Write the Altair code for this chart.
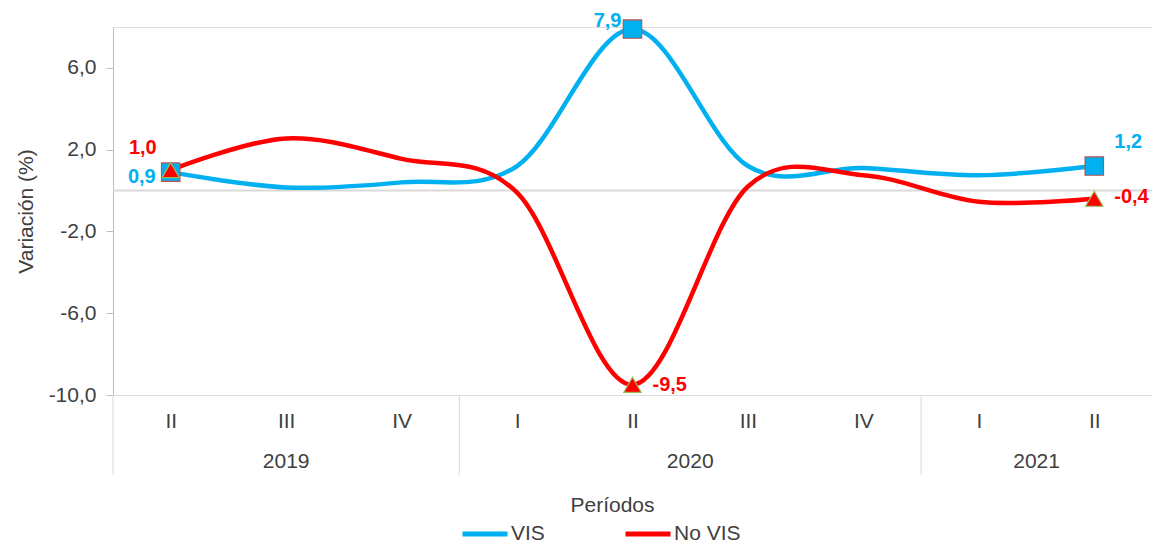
import altair as alt
import pandas as pd

quarters = ["II", "III", "IV", "I", "II", "III", "IV", "I", "II"]
years = ["2019", "2019", "2019", "2020", "2020", "2020", "2020", "2021", "2021"]
vis = [0.9, 0.15, 0.4, 1.2, 7.9, 1.2, 1.1, 0.75, 1.2]
no_vis = [1.0, 2.55, 1.55, -0.1, -9.5, 0.2, 0.75, -0.55, -0.4]
series_names = ["VIS", "No VIS"]
series_colors = ["#00B0F0", "#FF0000"]
labeled_idx = [0, 4, 8]

FONT = "Liberation Sans"
W, H = 1039, 368
FS = 21

rows = []
for i in range(len(quarters)):
    rows.append({"idx": i, "serie": "VIS", "valor": vis[i]})
    rows.append({"idx": i, "serie": "No VIS", "valor": no_vis[i]})
df = pd.DataFrame(rows)
df["lbl"] = df["valor"].map(lambda v: f"{v:.1f}".replace(".", ","))

groups = []
for y in dict.fromkeys(years):
    ids = [i for i, yy in enumerate(years) if yy == y]
    groups.append({"year": y, "center": (ids[0] + ids[-1]) / 2, "start": ids[0] - 0.5})
gdf = pd.DataFrame(groups)

xscale = alt.Scale(domain=[-0.5, len(quarters) - 0.5], nice=False, zero=False)
yscale = alt.Scale(domain=[-10, 8], nice=False)
cscale = alt.Scale(domain=series_names, range=series_colors)

qexpr = "[" + ",".join(f"'{q}'" for q in quarters) + "][datum.value]"

x_enc = alt.X("idx:Q", scale=xscale,
              axis=alt.Axis(values=list(range(len(quarters))), labelExpr=qexpr,
                            domain=False, ticks=False, grid=False,
                            labelFont=FONT, labelFontSize=FS, labelColor="#404040",
                            labelPadding=15, title="Períodos", titleFont=FONT,
                            titleFontSize=FS, titleFontWeight="normal",
                            titleColor="#404040", titleX=499, titleY=110,
                            titleBaseline="middle"))
y_enc = alt.Y("valor:Q", scale=yscale,
              axis=alt.Axis(values=[-10, -6, -2, 2, 6],
                            labelExpr="(datum.value < 0 ? '-' : '') + replace(format(abs(datum.value), '.1f'), '.', ',')",
                            grid=False, domainColor="#BFBFBF", tickColor="#BFBFBF",
                            tickSize=7, labelFont=FONT, labelFontSize=FS,
                            labelColor="#404040", labelPadding=10,
                            title="Variación (%)", titleFont=FONT, titleFontSize=FS,
                            titleFontWeight="normal", titleColor="#404040",
                            titlePadding=12))

base = alt.Chart(df)

zero = alt.Chart(pd.DataFrame({"z": [0]})).mark_rule(color="#D9D9D9", strokeWidth=2).encode(
    y=alt.Y("z:Q", scale=yscale))

seps = alt.Chart(gdf).mark_rule(color="#D9D9D9", strokeWidth=1).encode(
    x=alt.X("start:Q", scale=xscale), y=alt.value(H), y2=alt.value(H + 80))

year_txt = alt.Chart(gdf).mark_text(font=FONT, fontSize=FS, color="#404040",
                                    baseline="middle").encode(
    x=alt.X("center:Q", scale=xscale), y=alt.value(H + 67), text="year:N")

lines = base.mark_line(interpolate="cardinal", strokeWidth=4.5).encode(
    x=x_enc, y=y_enc,
    color=alt.Color("serie:N", scale=cscale, sort=series_names,
                    legend=alt.Legend(title=None, orient="none", direction="horizontal",
                                      legendX=347, legendY=482, symbolType="stroke",
                                      symbolSize=2025, symbolStrokeWidth=5,
                                      labelFont=FONT, labelFontSize=FS,
                                      labelColor="#404040", columnPadding=70,
                                      labelOffset=1)),
    detail="serie:N")

pts = base.transform_filter(alt.FieldOneOfPredicate(field="idx", oneOf=labeled_idx))

sq = pts.transform_filter("datum.serie == 'VIS'").mark_point(
    shape="square", filled=True, size=340, fill="#00B0F0", stroke="#C0504D",
    strokeWidth=1.2, opacity=1).encode(x=alt.X("idx:Q", scale=xscale),
                                       y=alt.Y("valor:Q", scale=yscale))
tri = pts.transform_filter("datum.serie == 'No VIS'").mark_point(
    shape="triangle-up", filled=True, size=300, fill="#FF0000", stroke="#9BBB59",
    strokeWidth=1.2, opacity=1).encode(x=alt.X("idx:Q", scale=xscale),
                                       y=alt.Y("valor:Q", scale=yscale))


def lab(serie, idx, align, dx, dy, color):
    return base.transform_filter(
        f"datum.serie == '{serie}' && datum.idx == {idx}").mark_text(
        font=FONT, fontSize=20, fontWeight="bold", color=color, align=align,
        baseline="middle", dx=dx, dy=dy).encode(
        x=alt.X("idx:Q", scale=xscale), y=alt.Y("valor:Q", scale=yscale), text="lbl:N")


labels = [
    lab("VIS", 0, "right", -15, 5, "#00B0F0"),
    lab("No VIS", 0, "right", -14, -22, "#FF0000"),
    lab("VIS", 4, "right", -11, -8, "#00B0F0"),
    lab("No VIS", 4, "left", 20, 0, "#FF0000"),
    lab("VIS", 8, "left", 20, -24, "#00B0F0"),
    lab("No VIS", 8, "left", 20, -2, "#FF0000"),
]

chart = alt.layer(zero, seps, year_txt, lines, sq, tri, *labels).properties(
    width=W, height=H,
    autosize=alt.AutoSizeParams(type="none"),
    padding={"left": 105, "top": 19, "right": 0, "bottom": 149},
).configure_view(stroke=None).configure(background="white")

chart.save("out.html", embed_options={"renderer": "svg", "actions": False})
